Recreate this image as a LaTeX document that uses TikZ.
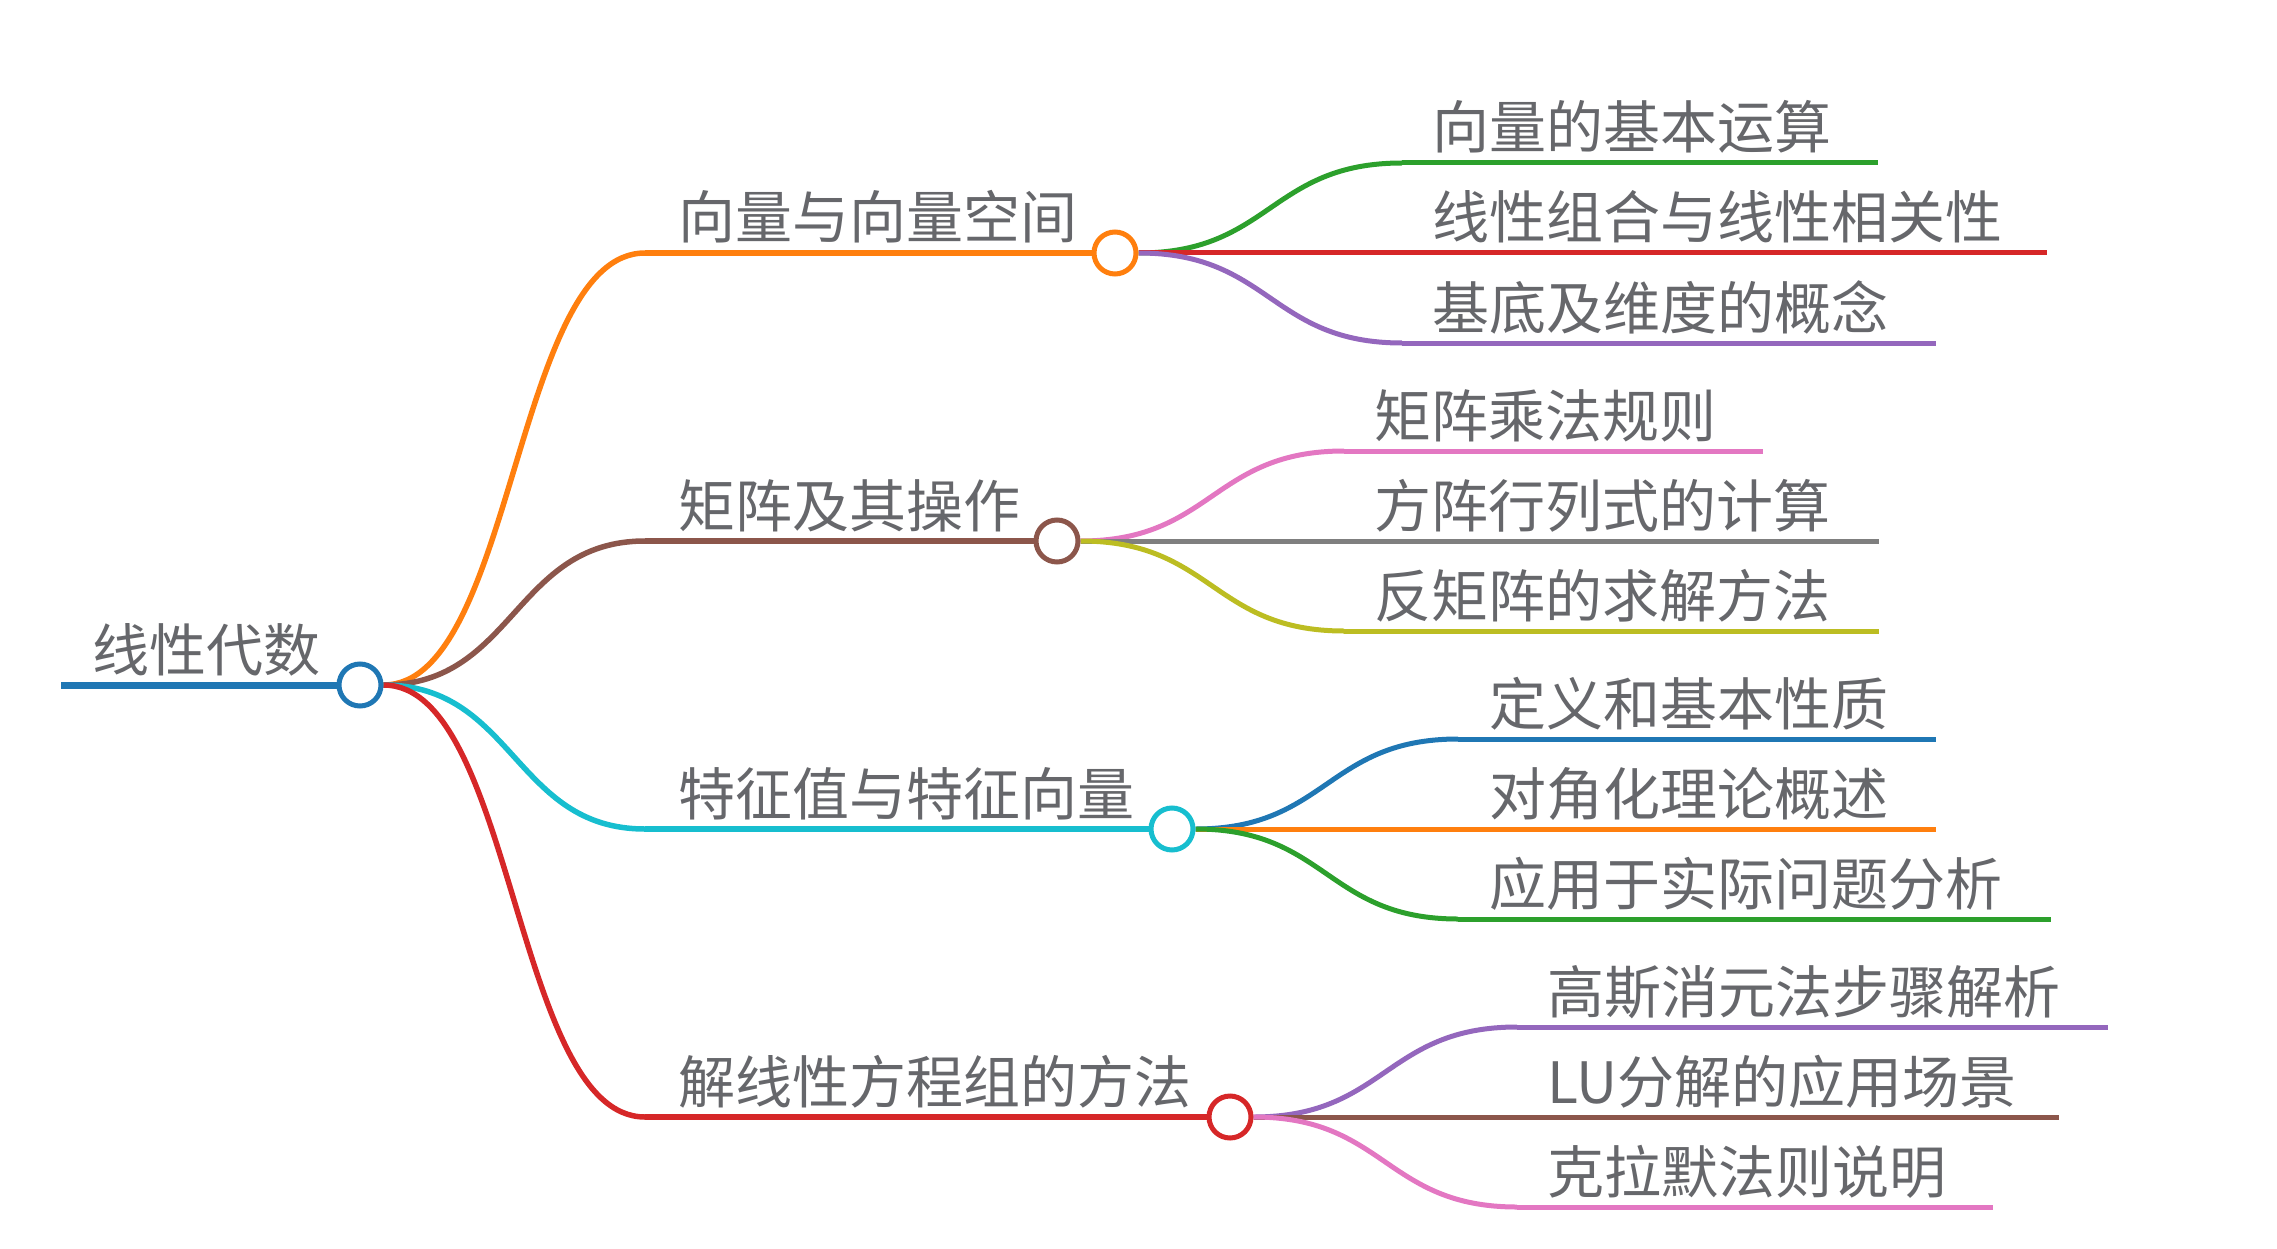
\documentclass[tikz,border=0pt]{standalone}
\usepackage{fontspec}
\setmainfont{Noto Sans CJK SC}
\usetikzlibrary{calc}
\pgfdeclarelayer{bg}\pgfsetlayers{bg,main}
\definecolor{cblue}{HTML}{1F77B4}
\definecolor{corange}{HTML}{FF7F0E}
\definecolor{cgreen}{HTML}{2CA02C}
\definecolor{cred}{HTML}{D62728}
\definecolor{cpurple}{HTML}{9467BD}
\definecolor{cbrown}{HTML}{8C564B}
\definecolor{cpink}{HTML}{E377C2}
\definecolor{cgrey}{HTML}{7F7F7F}
\definecolor{colive}{HTML}{BCBD22}
\definecolor{ccyan}{HTML}{17BECF}
\definecolor{txt}{HTML}{66676B}
\tikzset{
  dot/.style={circle,draw=#1,line width=5pt,fill=white,minimum size=42pt,inner sep=0pt},
  lbl/.style={anchor=base west,inner sep=0pt,text=txt,font=\fontsize{57}{57}\selectfont},
  edge0/.style={draw=#1,line width=7pt},
  edge1/.style={draw=#1,line width=5.5pt},
  edge2/.style={draw=#1,line width=5pt},
}
\newcommand\curvelink[3]{%
  \draw[#3] let \p1=(#1), \p2=(#2) in (\p1) .. controls ({0.5*\x1+0.5*\x2},\y1) and ({0.5*\x1+0.5*\x2},\y2) .. (\p2);}
\begin{document}
\begin{tikzpicture}[x=1pt,y=-1pt]
\useasboundingbox (0,0) rectangle (2277,1249);
% root
\node[dot=cblue] (R) at (360,685) {};
\node[lbl] (Rt) at (92,671) {线性代数};
\coordinate (R0) at (61,685);
% level 1
\node[dot=corange] (A) at (1115,253) {};
\node[lbl] (At) at (678,239) {向量与向量空间};
\coordinate (A0) at (645,253);
\node[dot=cbrown] (B) at (1057,541) {};
\node[lbl] (Bt) at (678,527) {矩阵及其操作};
\coordinate (B0) at (645,541);
\node[dot=ccyan] (C) at (1172,829) {};
\node[lbl] (Ct) at (678,815) {特征值与特征向量};
\coordinate (C0) at (645,829);
\node[dot=cred] (D) at (1230,1117) {};
\node[lbl] (Dt) at (678,1103) {解线性方程组的方法};
\coordinate (D0) at (645,1117);
% level 2 : A
\coordinate (A1s) at (1402,163); \coordinate (A1e) at (1878,163);
\node[lbl] (A1t) at (1432,149) {向量的基本运算};
\coordinate (A2s) at (1402,253); \coordinate (A2e) at (2047,253);
\node[lbl] (A2t) at (1432,239) {线性组合与线性相关性};
\coordinate (A3s) at (1402,343); \coordinate (A3e) at (1936,343);
\node[lbl] (A3t) at (1432,329) {基底及维度的概念};
% level 2 : B
\coordinate (B1s) at (1344,451); \coordinate (B1e) at (1763,451);
\node[lbl] (B1t) at (1374,437) {矩阵乘法规则};
\coordinate (B2s) at (1344,541); \coordinate (B2e) at (1879,541);
\node[lbl] (B2t) at (1374,527) {方阵行列式的计算};
\coordinate (B3s) at (1344,631); \coordinate (B3e) at (1879,631);
\node[lbl] (B3t) at (1374,617) {反矩阵的求解方法};
% level 2 : C
\coordinate (C1s) at (1458,739); \coordinate (C1e) at (1936,739);
\node[lbl] (C1t) at (1489,725) {定义和基本性质};
\coordinate (C2s) at (1458,829); \coordinate (C2e) at (1936,829);
\node[lbl] (C2t) at (1489,815) {对角化理论概述};
\coordinate (C3s) at (1458,919); \coordinate (C3e) at (2051,919);
\node[lbl] (C3t) at (1489,905) {应用于实际问题分析};
% level 2 : D
\coordinate (D1s) at (1517,1027); \coordinate (D1e) at (2108,1027);
\node[lbl] (D1t) at (1547,1013) {高斯消元法步骤解析};
\coordinate (D2s) at (1517,1117); \coordinate (D2e) at (2059,1117);
\node[lbl] (D2t) at (1547,1103) {LU分解的应用场景};
\coordinate (D3s) at (1517,1207); \coordinate (D3e) at (1993,1207);
\node[lbl] (D3t) at (1547,1193) {克拉默法则说明};
\begin{pgfonlayer}{bg}
\draw[edge0=cblue] (R0) -- (R);
\curvelink{R.east}{A0}{edge1=corange} \draw[edge1=corange] (A0) -- (A);
\curvelink{R.east}{B0}{edge1=cbrown}  \draw[edge1=cbrown] (B0) -- (B);
\curvelink{R.east}{C0}{edge1=ccyan}   \draw[edge1=ccyan] (C0) -- (C);
\curvelink{R.east}{D0}{edge1=cred}    \draw[edge1=cred] (D0) -- (D);
\curvelink{A.east}{A1s}{edge2=cgreen}  \draw[edge2=cgreen] (A1s) -- (A1e);
\curvelink{A.east}{A2s}{edge2=cred}    \draw[edge2=cred] (A2s) -- (A2e);
\curvelink{A.east}{A3s}{edge2=cpurple} \draw[edge2=cpurple] (A3s) -- (A3e);
\curvelink{B.east}{B1s}{edge2=cpink}   \draw[edge2=cpink] (B1s) -- (B1e);
\curvelink{B.east}{B2s}{edge2=cgrey}   \draw[edge2=cgrey] (B2s) -- (B2e);
\curvelink{B.east}{B3s}{edge2=colive}  \draw[edge2=colive] (B3s) -- (B3e);
\curvelink{C.east}{C1s}{edge2=cblue}   \draw[edge2=cblue] (C1s) -- (C1e);
\curvelink{C.east}{C2s}{edge2=corange} \draw[edge2=corange] (C2s) -- (C2e);
\curvelink{C.east}{C3s}{edge2=cgreen}  \draw[edge2=cgreen] (C3s) -- (C3e);
\curvelink{D.east}{D1s}{edge2=cpurple} \draw[edge2=cpurple] (D1s) -- (D1e);
\curvelink{D.east}{D2s}{edge2=cbrown}  \draw[edge2=cbrown] (D2s) -- (D2e);
\curvelink{D.east}{D3s}{edge2=cpink}   \draw[edge2=cpink] (D3s) -- (D3e);
\end{pgfonlayer}
\end{tikzpicture}
\end{document}
